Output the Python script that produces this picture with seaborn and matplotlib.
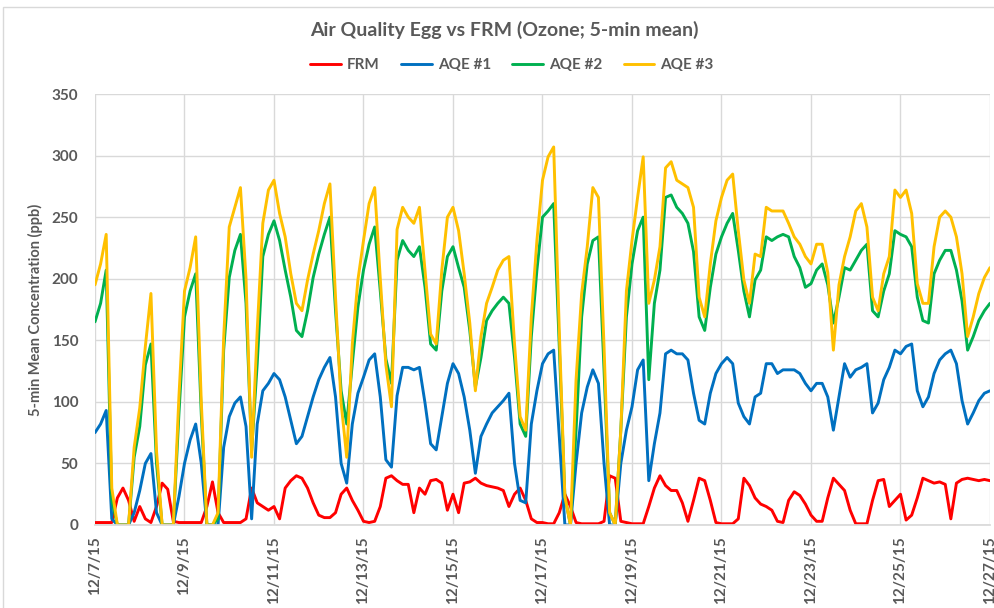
import pandas as pd
import numpy as np
import matplotlib.pyplot as plt
import seaborn as sns
from matplotlib.patches import Rectangle

# Values every 3 hours, starting 12/7/15 00:00
frm = [2, 2, 2, 2, 22, 30, 20, 3, 15, 5, 2, 15, 34, 29, 3, 2, 2, 2, 2, 2, 15, 35, 10, 2, 2, 2, 2,
       5, 30, 18, 15, 12, 15, 5, 30, 36, 40, 38, 30, 18, 8, 6, 6, 10, 25, 30, 20, 12, 3, 2, 3, 15, 38, 40,
       36, 33, 33, 10, 30, 25, 36, 37, 34, 12, 25, 10, 34, 35, 38, 34, 32, 31, 30, 28, 15, 25, 30, 20, 5, 2, 2,
       1, 1, 10, 25, 15, 2, 1, 1, 1, 1, 3, 40, 38, 3, 2, 1, 1, 1, 15, 30, 40, 32, 28, 28, 18, 3, 20,
       38, 36, 20, 2, 1, 1, 1, 5, 38, 32, 22, 17, 15, 12, 3, 2, 20, 27, 24, 17, 8, 3, 3, 22, 38, 33, 28,
       12, 1, 1, 1, 20, 36, 37, 15, 20, 25, 4, 8, 22, 38, 36, 34, 35, 33, 5, 34, 37, 38, 37, 36, 37, 36]

aqe1 = [75, 82, 93, 5, 0, 0, 0, 10, 28, 50, 58, 10, 0, 0, 0, 23, 50, 69, 82, 50, 0, 0, 0, 63, 88, 99, 104,
        80, 5, 82, 109, 115, 123, 118, 104, 85, 66, 72, 88, 104, 118, 128, 136, 104, 50, 34, 82, 107, 120, 134, 139, 104, 53, 47,
        105, 128, 128, 126, 128, 99, 66, 61, 88, 115, 131, 123, 104, 77, 42, 72, 82, 91, 96, 101, 107, 50, 20, 18, 82, 109, 131,
        139, 142, 72, 0, 0, 50, 91, 112, 126, 115, 50, 0, 0, 50, 77, 96, 126, 134, 36, 66, 91, 139, 142, 139, 139, 134, 107,
        85, 82, 107, 123, 131, 136, 131, 99, 88, 82, 104, 107, 131, 131, 123, 126, 126, 126, 123, 115, 109, 115, 115, 104, 77, 104, 131,
        120, 126, 128, 131, 91, 99, 118, 128, 142, 139, 145, 147, 109, 96, 104, 123, 134, 139, 142, 131, 101, 82, 91, 101, 107, 109]

aqe2 = [165, 180, 207, 20, 0, 0, 0, 55, 80, 130, 147, 50, 0, 0, 0, 90, 169, 190, 204, 90, 0, 0, 5, 142, 201, 223, 236,
        180, 60, 131, 218, 236, 247, 231, 207, 185, 158, 153, 174, 201, 220, 236, 250, 174, 109, 82, 131, 177, 207, 228, 242, 190, 135, 115,
        215, 231, 223, 218, 226, 193, 147, 142, 190, 218, 226, 209, 193, 158, 112, 136, 166, 174, 180, 185, 180, 136, 82, 72, 153, 207, 250,
        255, 261, 145, 23, 0, 77, 169, 212, 231, 234, 126, 10, 0, 77, 169, 212, 239, 250, 118, 180, 207, 266, 268, 258, 253, 245, 222,
        169, 158, 193, 220, 234, 245, 253, 223, 190, 169, 199, 207, 234, 231, 234, 236, 234, 218, 209, 193, 196, 207, 212, 195, 164, 185, 209,
        207, 215, 223, 228, 174, 169, 190, 204, 239, 236, 234, 226, 185, 166, 164, 204, 215, 223, 223, 207, 182, 142, 153, 166, 174, 180]

aqe3 = [195, 212, 236, 30, 0, 0, 0, 63, 95, 145, 188, 60, 0, 0, 0, 104, 190, 209, 234, 100, 0, 0, 10, 152, 242, 258, 274,
        200, 55, 158, 245, 272, 280, 253, 234, 204, 180, 174, 199, 220, 239, 261, 277, 185, 99, 55, 147, 199, 231, 261, 274, 200, 130, 96,
        240, 258, 250, 245, 258, 207, 155, 147, 207, 250, 258, 239, 204, 164, 109, 153, 180, 193, 207, 215, 218, 147, 88, 77, 169, 231, 280,
        299, 307, 158, 23, 0, 118, 188, 226, 274, 266, 145, 10, 0, 77, 190, 231, 266, 299, 180, 199, 226, 290, 295, 280, 277, 274, 258,
        185, 169, 212, 247, 266, 280, 285, 239, 199, 180, 220, 218, 258, 255, 255, 255, 245, 234, 228, 218, 212, 228, 228, 205, 142, 195, 218,
        234, 255, 261, 242, 185, 174, 204, 218, 272, 266, 272, 253, 196, 180, 180, 226, 250, 255, 250, 234, 204, 153, 169, 188, 201, 209]

series_names = ['FRM', 'AQE #1', 'AQE #2', 'AQE #3']
series_colors = ['#FF0000', '#0070C0', '#00B050', '#FFC000']

times = pd.date_range('2015-12-07', periods=len(frm), freq='3h')
df = pd.DataFrame({'time': times, 'FRM': frm, 'AQE #1': aqe1, 'AQE #2': aqe2, 'AQE #3': aqe3})
long_df = df.melt(id_vars='time', var_name='sensor', value_name='ppb')

sns.set_theme(style='white')
plt.rcParams['font.family'] = ['Lato', 'DejaVu Sans']
text_color = '#595959'

fig = plt.figure(figsize=(9.94, 6.08), dpi=100)
ax = fig.add_axes([95 / 994, 1 - 525 / 608, (990 - 95) / 994, (525 - 94) / 608])

sns.lineplot(data=long_df, x='time', y='ppb', hue='sensor', hue_order=series_names,
             palette=series_colors, linewidth=2.1, estimator=None, ax=ax)

# Axes formatting
ax.set_ylim(0, 350)
ax.set_yticks(range(0, 351, 50))
tick_dates = pd.date_range('2015-12-07', '2015-12-27', freq='2D')
ax.set_xlim(tick_dates[0], tick_dates[-1])
ax.set_xticks(tick_dates)
ax.set_xticklabels([f'{d.month}/{d.day}/{d.year % 100}' for d in tick_dates], rotation=90)
ax.tick_params(axis='both', length=0, colors=text_color, labelsize=11)
ax.tick_params(axis='y', pad=12)
ax.tick_params(axis='x', pad=8)
for lbl in ax.get_xticklabels() + ax.get_yticklabels():
    lbl.set_fontweight('bold')

ax.grid(True, color='#D9D9D9', linewidth=1)
ax.set_axisbelow(True)
for side in ['top', 'right', 'left']:
    ax.spines[side].set_visible(False)
ax.spines['bottom'].set_color('#D9D9D9')

ax.set_xlabel('')
ax.set_ylabel('5-min Mean Concentration (ppb)', fontsize=10.5, color=text_color, labelpad=6)
ax.yaxis.label.set_fontweight('bold')

# Legend on top, in one row
handles, labels = ax.get_legend_handles_labels()
ax.get_legend().remove()
fig.legend(handles, labels, loc='center', bbox_to_anchor=(0.515, 1 - 65 / 608), ncol=4, frameon=False,
           handlelength=2.0, columnspacing=1.4, handletextpad=0.4,
           prop={'weight': 'bold', 'size': 11}, labelcolor=text_color)

fig.text(0.507, 1 - 30 / 608, 'Air Quality Egg vs FRM (Ozone; 5-min mean)', ha='center', va='center',
         fontsize=14, fontweight='bold', color=text_color)

# Light chart-area border
fig.patches.append(Rectangle((3 / 994, -0.01), 1.0, 1 - 7 / 608 + 0.01, transform=fig.transFigure,
                             fill=False, edgecolor='#D9D9D9', linewidth=1))

plt.savefig('out.png', dpi=100)
